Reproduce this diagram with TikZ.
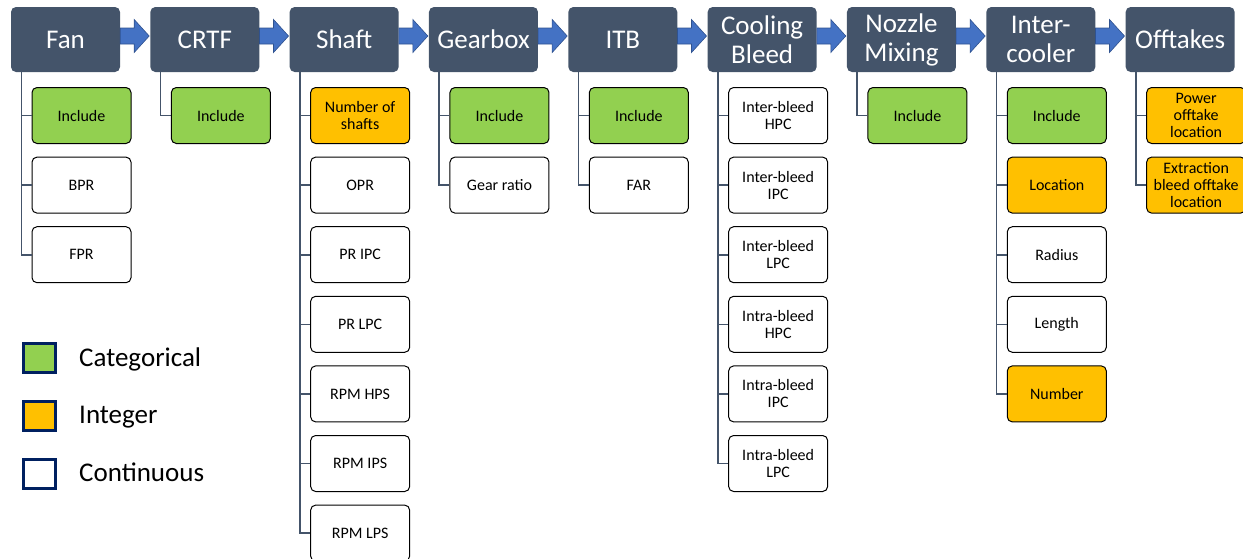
\documentclass[tikz,border=0pt]{standalone}
\usepackage{fontspec}
\setmainfont{Carlito}
\definecolor{hdrfill}{HTML}{44546A}
\definecolor{arrfill}{HTML}{4472C4}
\definecolor{arrline}{HTML}{2F528F}
\definecolor{catg}{HTML}{92D050}
\definecolor{intg}{HTML}{FFC000}
\definecolor{legline}{HTML}{002060}
\tikzset{
  hdr/.style={fill=hdrfill, rounded corners=5pt, minimum width=109pt, minimum height=65pt,
    inner sep=0pt, text=white, align=center, font=\fontsize{27}{29}\selectfont},
  kid/.style={draw=black, line width=1pt, rounded corners=5pt, minimum width=99pt,
    minimum height=56pt, inner sep=0pt, align=center, font=\fontsize{16}{17}\selectfont, fill=white},
  cat/.style={fill=catg},
  int/.style={fill=intg},
  con/.style={fill=white},
  conn/.style={draw=hdrfill, line width=1.6pt},
  arr/.style={fill=arrfill, draw=arrline, line width=0.6pt},
  leg/.style={draw=legline, line width=3pt, minimum width=32pt, minimum height=29pt, inner sep=0pt},
  legtxt/.style={font=\fontsize{27}{29}\selectfont, inner sep=0pt},
}
\newcommand\kid[4]{%
  \node[kid,#3] (c#1-#2) at ({11+139.33*#1+21+49.5},{115.5+69.6*(#2-1)}) {#4};
  \draw[conn] ([xshift=10.5pt]h#1.south west) |- (c#1-#2.west);}
\begin{document}
\begin{tikzpicture}[x=1pt,y=-1pt]
\useasboundingbox (0,0) rectangle (1243,558);
\foreach \i/\t in {0/Fan,1/CRTF,2/Shaft,3/Gearbox,4/ITB,5/{Cooling\\Bleed},6/{Nozzle\\Mixing},7/{Inter-\\cooler},8/Offtakes}{
  \node[hdr] (h\i) at ({11+139.33*\i+54.5},39.5) {\t};
}
\foreach \i in {0,...,7}{
  \draw[arr] ([yshift=3.5pt]h\i.east) ++(0,-8) -- ++(14,0) -- ++(0,-8.5) -- ++(15,16.5)
     -- ++(-15,16.5) -- ++(0,-8.5) -- ++(-14,0) -- cycle;
}
% Fan
\kid{0}{1}{cat}{Include}
\kid{0}{2}{con}{BPR}
\kid{0}{3}{con}{FPR}
% CRTF
\kid{1}{1}{cat}{Include}
% Shaft
\kid{2}{1}{int}{Number of\\shafts}
\kid{2}{2}{con}{OPR}
\kid{2}{3}{con}{PR IPC}
\kid{2}{4}{con}{PR LPC}
\kid{2}{5}{con}{RPM HPS}
\kid{2}{6}{con}{RPM IPS}
\kid{2}{7}{con}{RPM LPS}
% Gearbox
\kid{3}{1}{cat}{Include}
\kid{3}{2}{con}{Gear ratio}
% ITB
\kid{4}{1}{cat}{Include}
\kid{4}{2}{con}{FAR}
% Cooling bleed
\kid{5}{1}{con}{Inter-bleed\\HPC}
\kid{5}{2}{con}{Inter-bleed\\IPC}
\kid{5}{3}{con}{Inter-bleed\\LPC}
\kid{5}{4}{con}{Intra-bleed\\HPC}
\kid{5}{5}{con}{Intra-bleed\\IPC}
\kid{5}{6}{con}{Intra-bleed\\LPC}
% Nozzle mixing
\kid{6}{1}{cat}{Include}
% Inter-cooler
\kid{7}{1}{cat}{Include}
\kid{7}{2}{int}{Location}
\kid{7}{3}{con}{Radius}
\kid{7}{4}{con}{Length}
\kid{7}{5}{int}{Number}
% Offtakes
\kid{8}{1}{int}{Power\\offtake\\location}
\kid{8}{2}{int}{Extraction\\bleed offtake\\location}
% Legend
\node[leg, fill=catg] (l1) at (39.5,357.5) {};
\node[leg, fill=intg] (l2) at (39.5,415.5) {};
\node[leg, fill=white] (l3) at (39.5,473.5) {};
\node[legtxt, anchor=base west] (t1) at (79,366) {Categorical};
\node[legtxt, anchor=base west] (t2) at (79,423.5) {Integer};
\node[legtxt, anchor=base west] (t3) at (79,481) {Continuous};
\end{tikzpicture}
\end{document}
